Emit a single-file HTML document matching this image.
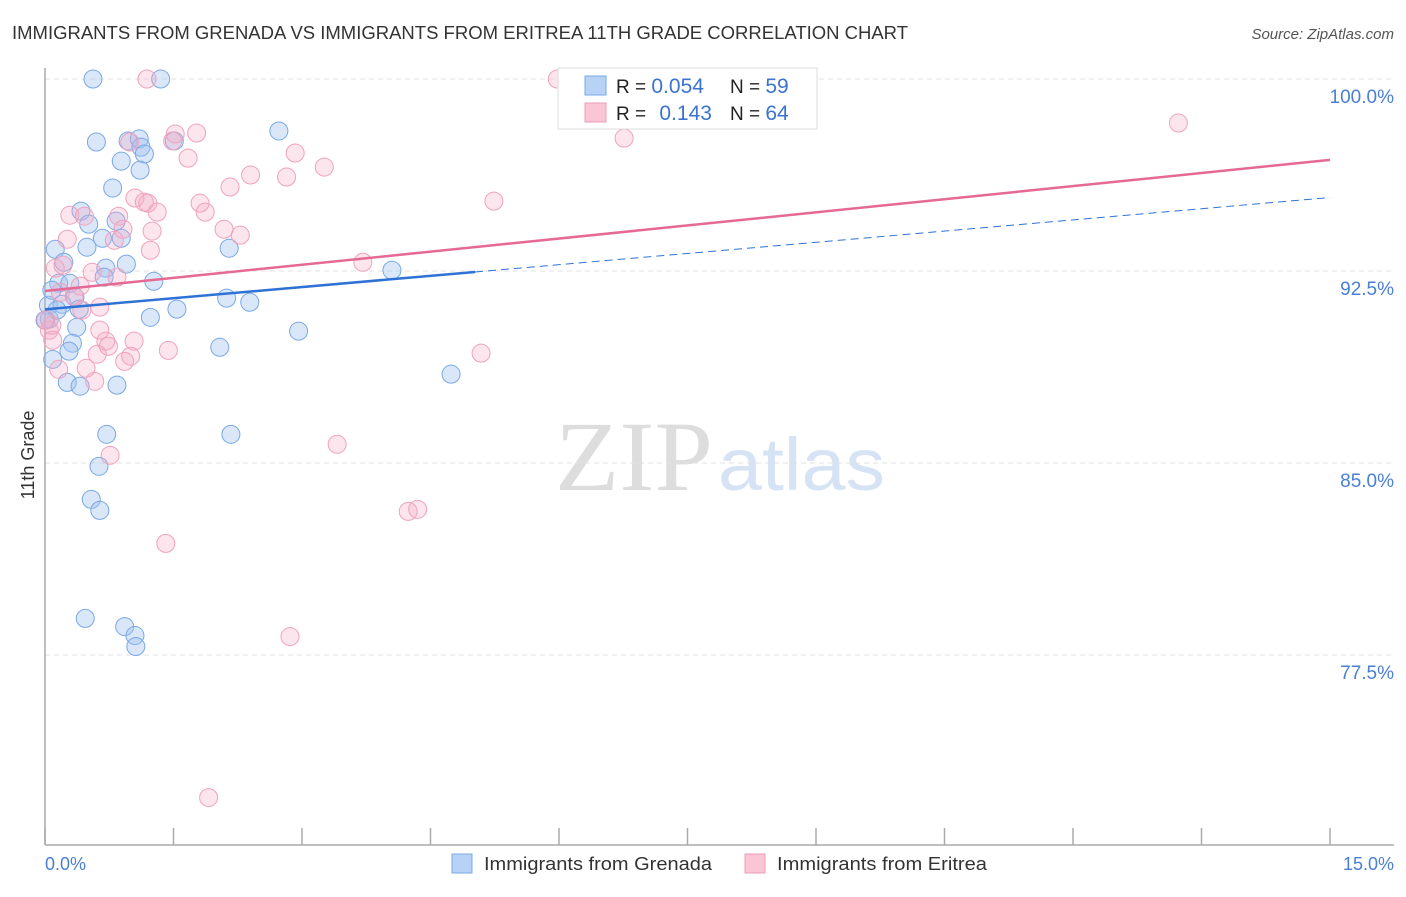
<!DOCTYPE html>
<html><head><meta charset="utf-8"><style>
body{margin:0;background:#fff;font-family:"Liberation Sans",sans-serif;}
svg text{font-family:"Liberation Sans",sans-serif;}
</style></head><body>
<svg id="chart" width="1406" height="892" xmlns="http://www.w3.org/2000/svg">
<text x="12" y="39" font-size="18" fill="#333" textLength="896" lengthAdjust="spacingAndGlyphs">IMMIGRANTS FROM GRENADA VS IMMIGRANTS FROM ERITREA 11TH GRADE CORRELATION CHART</text>
<text x="1394" y="39" font-size="15" fill="#555" font-style="italic" text-anchor="end">Source: ZipAtlas.com</text>
<text x="555" y="490" font-size="100" fill="#ddd" textLength="158" lengthAdjust="spacingAndGlyphs" style="font-family:'Liberation Serif',serif">ZIP</text>
<text x="718" y="490" font-size="74" fill="#d5e3f5" textLength="167" lengthAdjust="spacingAndGlyphs">atlas</text>
<g id="grid"></g>
<g id="axes"></g>
<g id="pts"></g>
<g id="trends"></g>
<text transform="translate(34,455) rotate(-90)" font-size="18" fill="#333" text-anchor="middle">11th Grade</text>
<text x="45" y="870" font-size="18" fill="#4a7fd4">0.0%</text>
<text x="1394" y="870" font-size="18" fill="#4a7fd4" text-anchor="end">15.0%</text>
<g>
<rect x="558" y="68" width="259" height="61" fill="#fff" stroke="#ddd"/>
<rect x="585" y="76" width="21" height="19" fill="#b8d2f5" stroke="#7aa8e8"/>
<rect x="585" y="103" width="21" height="19" fill="#fac6d6" stroke="#ee9bb6"/>
<text x="616" y="93" font-size="19" fill="#222">R = <tspan fill="#3a74d0" font-size="21">0.054</tspan></text>
<text x="730" y="93" font-size="19" fill="#222">N = <tspan fill="#3a74d0" font-size="21">59</tspan></text>
<text x="616" y="120" font-size="19" fill="#222">R = <tspan fill="#3a74d0" dx="8" font-size="21">0.143</tspan></text>
<text x="730" y="120" font-size="19" fill="#222">N = <tspan fill="#3a74d0" font-size="21">64</tspan></text>
</g>
<g>
<rect x="452" y="854" width="20" height="19" fill="#b8d2f5" stroke="#7aa8e8"/>
<text x="484" y="870" font-size="18" fill="#333" textLength="228" lengthAdjust="spacingAndGlyphs">Immigrants from Grenada</text>
<rect x="745" y="854" width="20" height="19" fill="#fac6d6" stroke="#ee9bb6"/>
<text x="777" y="870" font-size="18" fill="#333" textLength="210" lengthAdjust="spacingAndGlyphs">Immigrants from Eritrea</text>
</g>
</svg>
<script>
const yTicks=[100,92.5,85,77.5];
const yTickLabels=["100.0%","92.5%","85.0%","77.5%"];
const blueX=[0.56,1.35,0.60,0.97,1.10,1.12,1.16,1.51,0.89,1.11,2.73,0.79,0.42,0.51,0.83,0.67,0.89,0.12,0.49,0.22,0.71,0.95,2.15,0.16,0.29,0.69,1.27,0.04,0.20,0.35,0.40,2.12,2.39,1.23,1.54,0.05,0.37,2.96,4.05,0.32,0.28,0.09,2.04,0.26,0.41,0.84,4.74,0.72,2.17,0.63,0.54,0.64,0.47,0.93,1.05,1.06,0.14,0.08,0.00];
const blueY=[100,100,97.54,97.58,97.66,97.34,97.07,97.58,96.79,96.44,97.97,95.74,94.84,94.33,94.45,93.78,93.78,93.35,93.43,92.84,92.61,92.77,93.39,92.02,92.02,92.26,92.10,91.16,91.20,91.48,91.01,91.44,91.28,90.69,91.01,90.62,90.30,90.15,92.53,89.68,89.37,89.05,89.52,88.15,88.00,88.04,88.47,86.12,86.12,84.87,83.58,83.15,78.93,78.61,78.26,77.83,90.97,91.75,90.58];
const pinkX=[1.19,5.98,1.52,1.77,1.49,1.67,0.99,2.92,3.26,6.76,13.23,2.16,2.40,2.82,5.24,1.81,1.05,1.16,1.20,1.31,1.87,0.29,0.86,0.46,2.09,1.25,0.26,0.81,0.91,1.23,0.12,0.21,0.55,0.84,3.71,0.41,0.34,0.64,0.43,0.05,0.08,1.44,0.71,1.04,0.74,0.61,0.93,1.00,5.09,0.16,0.48,0.58,3.41,0.76,4.24,4.35,1.41,2.86,1.91,0.09,0.01,0.18,2.28,0.64];
const pinkY=[100,100,97.85,97.89,97.58,96.91,97.54,97.11,96.56,97.69,98.28,95.78,96.25,96.17,95.23,95.15,95.35,95.19,95.15,94.80,94.80,94.68,94.64,94.64,94.13,94.06,93.74,93.70,94.13,93.31,92.61,92.73,92.45,92.26,92.84,91.91,91.52,91.09,90.97,90.19,90.38,89.40,89.76,89.76,89.56,89.25,88.97,89.17,89.29,88.66,88.70,88.19,85.73,85.30,83.11,83.19,81.86,78.22,71.93,89.80,90.58,91.67,93.90,90.19];
const blueTrend=[91.0,95.37];
const pinkTrend=[91.72,96.84];
const blueSolidEnd=5.02;
const NS="http://www.w3.org/2000/svg";
const X=v=>45+v/15*1285;
const Y=v=>79+(100-v)*25.6;
function mk(tag,attrs,parent){const e=document.createElementNS(NS,tag);for(const k in attrs)e.setAttribute(k,attrs[k]);parent.appendChild(e);return e;}
const grid=document.getElementById('grid'),axes=document.getElementById('axes');
yTicks.forEach((t,i)=>{
 const l=mk('line',{x1:45,x2:1394,y1:Y(t),y2:Y(t),stroke:'#e2e2e2','stroke-dasharray':'5,4'},grid);
 
 
 const tx=mk('text',{x:1394,y:Y(t)+24,'font-size':19,fill:'#4a7fd4','text-anchor':'end'},grid);
 tx.textContent=yTickLabels[i];
 
 
});
mk('line',{x1:45,x2:45,y1:68,y2:845,stroke:'#aaa','stroke-width':1.5},axes);
mk('line',{x1:45,x2:1394,y1:845,y2:845,stroke:'#aaa','stroke-width':1.5},axes);
for(let i=0;i<=10;i++){const t=mk('line',{x1:X(i*1.5),x2:X(i*1.5),y1:828,y2:845,stroke:'#aaa','stroke-width':1.5},axes);
 
 }
const pts=document.getElementById('pts');
blueX.forEach((v,i)=>{const c=mk('circle',{cx:X(v),cy:Y(blueY[i]),r:9,fill:'rgba(160,195,240,0.4)',stroke:'#7aa8e6','stroke-width':1},pts);
 
 });
pinkX.forEach((v,i)=>{const c=mk('circle',{cx:X(v),cy:Y(pinkY[i]),r:9,fill:'rgba(245,170,195,0.3)',stroke:'#efa2bd','stroke-width':1},pts);
 
 });
const tr=document.getElementById('trends');
const bAt=x=>blueTrend[0]+(blueTrend[1]-blueTrend[0])*x/15;
const b1=mk('line',{x1:X(0),y1:Y(bAt(0)),x2:X(blueSolidEnd),y2:Y(bAt(blueSolidEnd)),stroke:'#2f72d6','stroke-width':2.5},tr);


const b2=mk('line',{x1:X(blueSolidEnd),y1:Y(bAt(blueSolidEnd)),x2:X(15),y2:Y(bAt(15)),stroke:'#2f72d6','stroke-width':1,'stroke-dasharray':'8,5'},tr);


const p1=mk('line',{x1:X(0),y1:Y(pinkTrend[0]),x2:X(15),y2:Y(pinkTrend[1]),stroke:'#e66894','stroke-width':2.5},tr);


</script>
</body></html>
